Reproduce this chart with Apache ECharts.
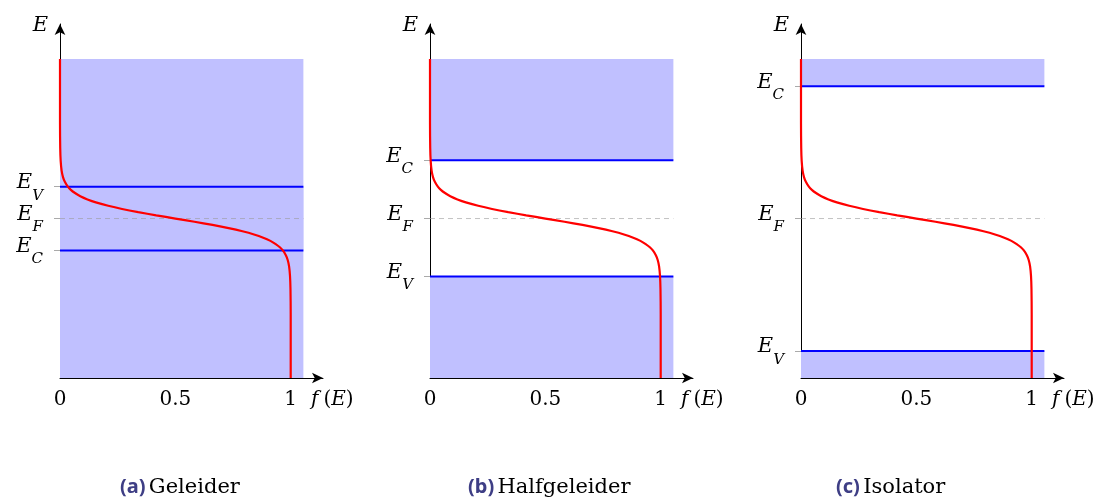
<!DOCTYPE html>
<html>
<head>
<meta charset="utf-8">
<script src="https://cdn.jsdelivr.net/npm/echarts@6/dist/echarts.min.js"></script>
<style>
  html, body { margin: 0; background: #fff; }
  #chart { width: 1104px; height: 501px; }
</style>
</head>
<body>
<div id="chart"></div>
<script>
// occupation f(E) (identical in the three panels)
const fermiE = [10, 8, 7.2, 6.8, 6.5, 6.3, 6.15, 6.0, 5.9, 5.8, 5.7, 5.6, 5.5, 5.4, 5.3, 5.2, 5.1, 5.0,
  4.9, 4.8, 4.7, 4.6, 4.5, 4.4, 4.3, 4.2, 4.1, 4.0, 3.85, 3.7, 3.5, 3.2, 2.8, 2.0, 0];
const fermiF = [0, 0, 0.001, 0.003, 0.007, 0.013, 0.021, 0.034, 0.047, 0.065, 0.088, 0.119, 0.159, 0.209, 0.269, 0.339, 0.417, 0.5,
  0.583, 0.661, 0.731, 0.791, 0.841, 0.881, 0.912, 0.935, 0.953, 0.966, 0.979, 0.987, 0.993, 0.997, 0.999, 1, 1];

const xTicks = [0, 0.5, 1];
const bandTop = 10;        // top of the drawn energy range
const fermiLevel = 5;      // E_F
const panelTags = ['a', 'b', 'c'];
const panelNames = ['Geleider', 'Halfgeleider', 'Isolator'];
const levelC = [4, 6.83, 9.15];   // E_C per panel
const levelV = [6, 3.18, 0.85];   // E_V per panel

const chart = echarts.init(document.getElementById('chart'));

const gridLefts = [60, 430, 801];
const captionX = [120, 468, 836];
const xEnd = 1.055;   // right edge of the shaded bands / level lines
const serif = 'DejaVu Serif';

const mathRich = {
  e: { fontFamily: serif, fontStyle: 'italic', fontSize: 21, color: '#000', padding: [0, 0, 8, 0] },
  s: { fontFamily: serif, fontStyle: 'italic', fontSize: 15, color: '#000', padding: [18, 0, 0, 0] },
  f: { fontFamily: serif, fontStyle: 'italic', fontSize: 20, color: '#000', padding: [0, 5, 0, 0] },
  p: { fontFamily: serif, fontSize: 20, color: '#000' },
  x: { fontFamily: serif, fontStyle: 'italic', fontSize: 20, color: '#000' }
};

const grids = [], xAxes = [], yAxes = [], series = [], graphics = [];

panelTags.forEach((tag, i) => {
  const ec = levelC[i], ev = levelV[i];
  const labels = {};
  labels[ec] = '{e|E}{s|C}';
  labels[ev] = '{e|E}{s|V}';
  labels[fermiLevel] = '{e|E}{s|F}';

  grids.push({ left: gridLefts[i], top: 24, width: 263, height: 354 });

  xAxes.push({
    gridIndex: i, type: 'value', min: 0, max: 1.14, interval: 0.5,
    axisLine: { lineStyle: { color: '#000', width: 1 }, symbol: ['none', 'arrow'], symbolSize: [8, 11] },
    axisTick: { inside: true, length: 6, customValues: xTicks, lineStyle: { color: '#aaa' } },
    axisLabel: { customValues: xTicks, margin: 12, fontFamily: serif, fontSize: 20, color: '#000',
      formatter: v => String(v) },
    splitLine: { show: false },
    name: '{f|f}{p|(}{x|E}{p|)}', nameLocation: 'end', nameGap: -12,
    nameTextStyle: { align: 'left', verticalAlign: 'top', padding: [12, 0, 0, 0], rich: mathRich }
  });

  yAxes.push({
    gridIndex: i, type: 'value', min: 0, max: 11.1,
    axisLine: { lineStyle: { color: '#000', width: 1 }, symbol: ['none', 'arrow'], symbolSize: [8, 11] },
    axisTick: { length: 6, customValues: [ev, fermiLevel, ec], lineStyle: { color: '#aaa' } },
    axisLabel: { customValues: [ev, fermiLevel, ec], margin: 17, rich: mathRich,
      formatter: v => labels[v] || '' },
    splitLine: { show: false },
    name: 'E', nameLocation: 'end', nameGap: -2,
    nameTextStyle: { fontFamily: serif, fontStyle: 'italic', fontSize: 21, color: '#000',
      align: 'right', verticalAlign: 'middle', padding: [0, 12, 0, 0] }
  });

  // shaded bands: conduction band above E_C, valence band below E_V
  series.push({
    type: 'line', xAxisIndex: i, yAxisIndex: i, data: [], silent: true, z: 1,
    markArea: {
      silent: true,
      itemStyle: { color: '#c0c0ff' },
      data: [
        [{ xAxis: 0, yAxis: ec }, { xAxis: xEnd, yAxis: bandTop }],
        [{ xAxis: 0, yAxis: 0 }, { xAxis: xEnd, yAxis: ev }]
      ]
    }
  });

  // Fermi level, dashed
  series.push({
    type: 'line', xAxisIndex: i, yAxisIndex: i, symbol: 'none', silent: true, z: 2,
    lineStyle: { color: '#999', opacity: 0.6, width: 1, type: [5, 4] },
    data: [[0, fermiLevel], [xEnd, fermiLevel]]
  });

  // band edges
  [ec, ev].forEach(lv => {
    series.push({
      type: 'line', xAxisIndex: i, yAxisIndex: i, symbol: 'none', silent: true, z: 3,
      lineStyle: { color: '#0000ff', width: 2 },
      data: [[0, lv], [xEnd, lv]]
    });
  });

  // Fermi-Dirac curve
  series.push({
    type: 'line', xAxisIndex: i, yAxisIndex: i, symbol: 'none', silent: true, z: 4,
    smooth: 0.3,
    lineStyle: { color: '#ff0000', width: 2.2 },
    data: fermiF.map((f, k) => [f, fermiE[k]])
  });

  graphics.push({
    type: 'text', left: captionX[i], top: 477,
    style: {
      text: '{t|(' + tag + ')} {n|' + panelNames[i] + '}',
      rich: {
        t: { fontFamily: 'Noto Sans', fontWeight: 'bold', fontSize: 20, fill: '#3e3e85' },
        n: { fontFamily: serif, fontSize: 21, fill: '#000' }
      }
    }
  });
});

chart.setOption({
  backgroundColor: '#fff',
  animation: false,
  grid: grids,
  xAxis: xAxes,
  yAxis: yAxes,
  series: series,
  graphic: graphics
});
</script>
</body>
</html>
